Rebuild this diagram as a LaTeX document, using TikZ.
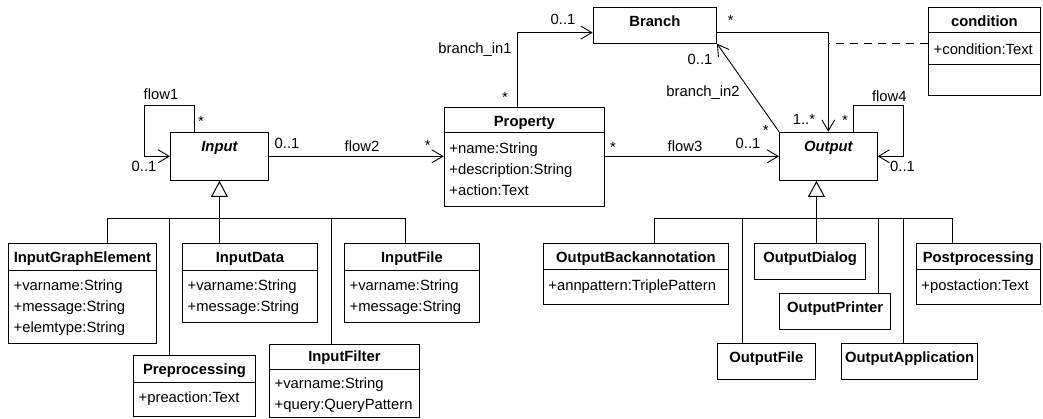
\documentclass[tikz,border=0pt]{standalone}
\usepackage{fontspec}
\setmainfont{Liberation Sans}
\usetikzlibrary{arrows.meta,positioning}

\newcommand\umlsize{\fontsize{14.8}{21}\selectfont}

\tikzset{
  cls/.style={draw, rectangle, inner sep=0pt, anchor=north west, line width=0.9pt},
  ctitle/.style={anchor=base, inner sep=0pt, font=\umlsize\bfseries},
  atitle/.style={ctitle, font=\umlsize\bfseries\itshape},
  attr/.style={anchor=base west, inner sep=0pt, font=\umlsize},
  lbl/.style={anchor=base, inner sep=0pt, font=\umlsize},
  assoc/.style={line width=0.9pt, -{Straight Barb[length=11pt,width=13pt]}},
  gen/.style={line width=0.9pt},
  trunk/.style={line width=1.6pt, -{Triangle[open,length=16pt,width=17pt,line width=1pt]}},
  note/.style={line width=0.9pt, dash pattern=on 8pt off 6pt}
}

\begin{document}
\begin{tikzpicture}[x=1pt,y=1pt]
  \useasboundingbox (0,0) rectangle (1043,419);

  % abstract classes and associations
  \node[cls, minimum width=98pt, minimum height=48.3pt] (input) at (170,287.3) {};
  \node[atitle] (input-t) at ([yshift=-19.5pt]input.north) {Input};

  \node[cls, minimum width=160.3pt, minimum height=99.3pt] (prop) at (443.7,312.3) {};
  \node[ctitle] (prop-t) at ([yshift=-19.5pt]prop.north) {Property};
  \draw[line width=0.9pt] ([yshift=-26pt]prop.north west) -- ([yshift=-26pt]prop.north east);
  \node[attr] (prop-a1) at ([xshift=5.5pt,yshift=-47pt]prop.north west) {+name:String};
  \node[attr] (prop-a2) at ([xshift=5.5pt,yshift=-68pt]prop.north west) {+description:String};
  \node[attr] (prop-a3) at ([xshift=5.5pt,yshift=-89pt]prop.north west) {+action:Text};

  \node[cls, minimum width=123.3pt, minimum height=36pt] (branch) at (592.7,412.3) {};
  \node[ctitle] (branch-t) at ([yshift=-19.5pt]branch.north) {Branch};

  \node[cls, minimum width=112pt, minimum height=87.7pt] (cond) at (928,411.7) {};
  \node[ctitle] (cond-t) at ([yshift=-19.5pt]cond.north) {condition};
  \draw[line width=0.9pt] ([yshift=-25.5pt]cond.north west) -- ([yshift=-25.5pt]cond.north east);
  \draw[line width=0.9pt] ([yshift=-57pt]cond.north west) -- ([yshift=-57pt]cond.north east);
  \node[attr] (cond-a1) at ([xshift=5.5pt,yshift=-47pt]cond.north west) {+condition:Text};

  \node[cls, minimum width=97.7pt, minimum height=48.3pt] (output) at (779,287.3) {};
  \node[atitle] (output-t) at ([yshift=-19.5pt]output.north) {Output};

  % input subclasses
  \node[cls, minimum width=148pt, minimum height=100pt] (ige) at (8,176) {};
  \node[ctitle] (ige-t) at ([yshift=-19.5pt]ige.north) {InputGraphElement};
  \draw[line width=0.9pt] ([yshift=-27pt]ige.north west) -- ([yshift=-27pt]ige.north east);
  \node[attr] (ige-a1) at ([xshift=5.5pt,yshift=-48pt]ige.north west) {+varname:String};
  \node[attr] (ige-a2) at ([xshift=5.5pt,yshift=-69pt]ige.north west) {+message:String};
  \node[attr] (ige-a3) at ([xshift=5.5pt,yshift=-90pt]ige.north west) {+elemtype:String};

  \node[cls, minimum width=135pt, minimum height=78.7pt] (idata) at (182,176) {};
  \node[ctitle] (idata-t) at ([yshift=-19.5pt]idata.north) {InputData};
  \draw[line width=0.9pt] ([yshift=-27pt]idata.north west) -- ([yshift=-27pt]idata.north east);
  \node[attr] (idata-a1) at ([xshift=5.5pt,yshift=-48pt]idata.north west) {+varname:String};
  \node[attr] (idata-a2) at ([xshift=5.5pt,yshift=-69pt]idata.north west) {+message:String};

  \node[cls, minimum width=135pt, minimum height=78.7pt] (ifile) at (344,176) {};
  \node[ctitle] (ifile-t) at ([yshift=-19.5pt]ifile.north) {InputFile};
  \draw[line width=0.9pt] ([yshift=-27pt]ifile.north west) -- ([yshift=-27pt]ifile.north east);
  \node[attr] (ifile-a1) at ([xshift=5.5pt,yshift=-48pt]ifile.north west) {+varname:String};
  \node[attr] (ifile-a2) at ([xshift=5.5pt,yshift=-69pt]ifile.north west) {+message:String};

  \node[cls, minimum width=122pt, minimum height=61pt] (prep) at (133,64) {};
  \node[ctitle] (prep-t) at ([yshift=-19.5pt]prep.north) {Preprocessing};
  \draw[line width=0.9pt] ([yshift=-27pt]prep.north west) -- ([yshift=-27pt]prep.north east);
  \node[attr] (prep-a1) at ([xshift=5.5pt,yshift=-48pt]prep.north west) {+preaction:Text};

  \node[cls, minimum width=150pt, minimum height=73pt] (ifilter) at (269,75) {};
  \node[ctitle] (ifilter-t) at ([yshift=-17.5pt]ifilter.north) {InputFilter};
  \draw[line width=0.9pt] ([yshift=-25pt]ifilter.north west) -- ([yshift=-25pt]ifilter.north east);
  \node[attr] (ifilter-a1) at ([xshift=5.5pt,yshift=-45pt]ifilter.north west) {+varname:String};
  \node[attr] (ifilter-a2) at ([xshift=5.5pt,yshift=-66pt]ifilter.north west) {+query:QueryPattern};

  % output subclasses
  \node[cls, minimum width=185.6pt, minimum height=61.3pt] (oback) at (542.7,176) {};
  \node[ctitle] (oback-t) at ([yshift=-19.5pt]oback.north) {OutputBackannotation};
  \draw[line width=0.9pt] ([yshift=-26.3pt]oback.north west) -- ([yshift=-26.3pt]oback.north east);
  \node[attr] (oback-a1) at ([xshift=5.5pt,yshift=-47.5pt]oback.north west) {+annpattern:TriplePattern};

  \node[cls, minimum width=110.7pt, minimum height=36.3pt] (odialog) at (754.3,176) {};
  \node[ctitle] (odialog-t) at ([yshift=-19.5pt]odialog.north) {OutputDialog};

  \node[cls, minimum width=110.7pt, minimum height=36pt] (oprinter) at (779.3,126) {};
  \node[ctitle] (oprinter-t) at ([yshift=-19.5pt]oprinter.north) {OutputPrinter};

  \node[cls, minimum width=98.3pt, minimum height=36pt] (ofile) at (716.7,76) {};
  \node[ctitle] (ofile-t) at ([yshift=-19.5pt]ofile.north) {OutputFile};

  \node[cls, minimum width=136.3pt, minimum height=36pt] (oapp) at (841,76) {};
  \node[ctitle] (oapp-t) at ([yshift=-19.5pt]oapp.north) {OutputApplication};

  \node[cls, minimum width=124.3pt, minimum height=61.3pt] (postp) at (915.7,176) {};
  \node[ctitle] (postp-t) at ([yshift=-19.5pt]postp.north) {Postprocessing};
  \draw[line width=0.9pt] ([yshift=-26.3pt]postp.north west) -- ([yshift=-26.3pt]postp.north east);
  \node[attr] (postp-a1) at ([xshift=5.5pt,yshift=-47.5pt]postp.north west) {+postaction:Text};

  % associations
  \draw[assoc] ([xshift=-25pt]input.north) -- ++(0,26) -| ([xshift=-25.7pt]input.west) -- (input.west);
  \draw[assoc] (input.east) -- (input.east -| prop.west);
  \draw[assoc] (prop.east |- output.west) -- (output.west);
  \draw[assoc] ([xshift=-6.85pt]prop.north) |- ([yshift=11pt]branch.south west);
  \draw[assoc] ([yshift=11pt]branch.south east) -| (output.north);
  \draw[assoc] (output.north west) -- (branch.south east);
  \draw[assoc] ([xshift=24.85pt]output.north) -- ++(0,26) -| ([xshift=26pt]output.east) -- (output.east);
  \draw[note] ([yshift=-36pt]cond.north west) coordinate (cond-link) -- (cond-link -| output.north);

  % generalizations
  \coordinate (ibus) at ([yshift=-37.3pt]input.south);
  \draw[gen] ([xshift=25pt]ige.north) |- (ibus);
  \draw[gen] ([xshift=-25pt]prep.north) |- (ibus);
  \draw[gen] (ibus |- idata.north) -- (ibus);
  \draw[gen] ([xshift=-13.3pt]ifilter.north) |- (ibus);
  \draw[gen] ([xshift=-6.5pt]ifile.north) |- (ibus);
  \draw[trunk] (ibus) -- (input.south);

  \coordinate (obus) at ([xshift=-11.85pt,yshift=-37.5pt]output.south);
  \draw[gen] ([xshift=18.5pt]oback.north) |- (obus);
  \draw[gen] ([xshift=-24.15pt]ofile.north) |- (obus);
  \draw[gen] (obus |- odialog.north) -- (obus);
  \draw[gen] ([xshift=43pt]oprinter.north) |- (obus);
  \draw[gen] ([xshift=-6.45pt]oapp.north) |- (obus);
  \draw[gen] ([xshift=-25.85pt]postp.north) |- (obus);
  \draw[trunk] (obus) -- (obus |- output.south);

  % role and association labels
  \node[lbl] (l-flow1) at (161,319) {flow1};
  \node[lbl] (l-flow1s) at (201,292) {*};
  \node[lbl] (l-flow1t) at (144,247) {0..1};
  \node[lbl] (l-flow2s) at (287,270.5) {0..1};
  \node[lbl] (l-flow2) at (362,267.3) {flow2};
  \node[lbl] (l-flow2t) at (427.7,268.7) {*};
  \node[lbl] (l-bin1) at (475,365.7) {branch\_in1};
  \node[lbl] (l-bin1s) at (505,316.4) {*};
  \node[lbl] (l-bin1t) at (563,394) {0..1};
  \node[lbl] (l-bouts) at (730.7,393.7) {*};
  \node[lbl] (l-boutt) at (804,294) {1..*};
  \node[lbl] (l-bin2) at (703,322.5) {branch\_in2};
  \node[lbl] (l-bin2s) at (765.7,283.7) {*};
  \node[lbl] (l-bin2t) at (700,354) {0..1};
  \node[lbl] (l-flow3s) at (613,266.4) {*};
  \node[lbl] (l-flow3) at (685,267.3) {flow3};
  \node[lbl] (l-flow3t) at (748,270.5) {0..1};
  \node[lbl] (l-flow4) at (889.3,317.3) {flow4};
  \node[lbl] (l-flow4s) at (845,293) {*};
  \node[lbl] (l-flow4t) at (902.5,247.3) {0..1};
\end{tikzpicture}
\end{document}
